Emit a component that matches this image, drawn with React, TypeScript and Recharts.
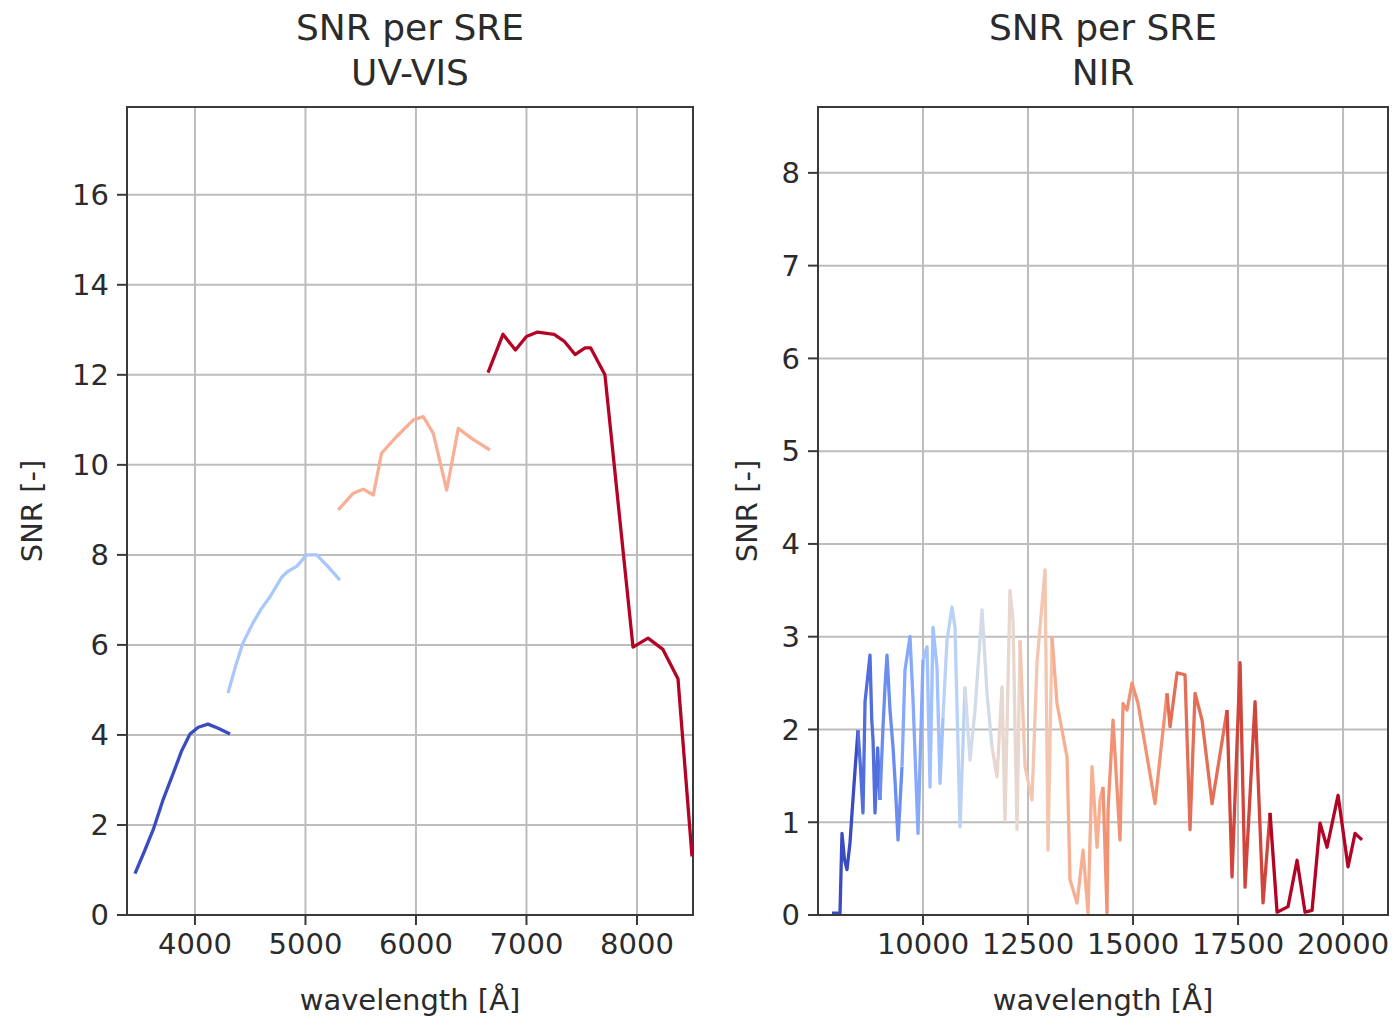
import React from 'react';
import { LineChart, Line, XAxis, YAxis, CartesianGrid, ReferenceArea } from 'recharts';

// ---------- UV-VIS data: [wavelength Å, SNR] ----------
const uvBlue = [[3457,0.92],[3540,1.4],[3623,1.9],[3710,2.55],[3804,3.15],[3880,3.65],[3955,4.02],[4030,4.17],[4118,4.24],[4210,4.15],[4317,4.02]];
const uvLightBlue = [[4299,4.93],[4370,5.55],[4434,6.04],[4525,6.49],[4600,6.8],[4679,7.07],[4787,7.51],[4833,7.62],[4923,7.75],[5011,8.0],[5101,8.0],[5200,7.75],[5312,7.44]];
const uvSalmon = [[5297,9.0],[5433,9.37],[5523,9.46],[5614,9.33],[5689,10.26],[5825,10.63],[5976,11.0],[6066,11.07],[6157,10.7],[6278,9.44],[6383,10.81],[6519,10.56],[6670,10.33]];
const uvRed = [[6652,12.05],[6787,12.9],[6900,12.55],[7000,12.85],[7100,12.95],[7250,12.9],[7340,12.75],[7440,12.45],[7530,12.6],[7580,12.6],[7710,12.0],[7964,5.95],[8100,6.15],[8235,5.9],[8371,5.25],[8498,1.3]];

// ---------- NIR data segments: [wavelength Å, SNR] ----------
const nir0 = [[7833,0.02],[8024,0.02],[8071,0.88],[8130,0.6],[8190,0.49],[8262,0.78],[8310,1.1],[8380,1.55],[8452,1.99]];
const nir1 = [[8452,1.99],[8510,1.6],[8571,1.1],[8620,2.3],[8667,2.5],[8738,2.8],[8780,2.1],[8810,1.89],[8857,1.1],[8920,1.8],[8976,1.24]];
const nir2 = [[8976,1.24],[9048,2.03],[9100,2.5],[9143,2.8],[9214,2.21],[9286,1.81],[9340,1.4],[9405,0.81],[9500,1.6]];
const nir3 = [[9500,1.6],[9571,2.64],[9690,3.0],[9762,2.32],[9881,0.88],[10000,2.75]];
const nir4 = [[10000,2.75],[10095,2.89],[10167,1.38],[10238,3.1],[10333,2.67],[10405,1.42],[10476,2.13]];
const nir5 = [[10476,2.13],[10571,2.96],[10690,3.32],[10762,3.1],[10881,0.95],[11000,2.46]];
const nir6 = [[11000,2.46],[11119,1.67],[11238,2.21],[11405,3.29],[11524,2.39],[11643,1.81]];
const nir7 = [[11643,1.81],[11762,1.49],[11881,2.46],[11952,1.02],[12071,3.5],[12143,3.18],[12238,0.92],[12310,2.96]];
const nir8 = [[12310,2.96],[12429,1.6],[12595,1.24],[12714,2.72],[12905,3.72],[12976,0.7],[13071,3.0]];
const nir9 = [[13071,3.0],[13190,2.28],[13429,1.7],[13500,0.38],[13667,0.13],[13810,0.7],[13929,0.02],[14024,1.6],[14143,0.73],[14214,1.24],[14286,1.38]];
const nir10 = [[14286,1.38],[14381,0.02],[14405,1.13],[14524,2.1],[14690,0.81],[14762,2.28],[14857,2.21],[14976,2.5],[15119,2.28],[15524,1.2],[15810,2.39]];
const nir11 = [[15810,2.39],[15881,2.03],[16048,2.61],[16238,2.59],[16357,0.92],[16476,2.39],[16643,2.1],[16881,1.2],[17024,1.6],[17238,2.21]];
const nir12 = [[17238,2.21],[17357,0.41],[17548,2.72],[17667,0.3],[17905,2.3],[18095,0.13],[18262,1.1]];
const nir13 = [[18262,1.1],[18429,0.03],[18690,0.09],[18905,0.59],[19095,0.03],[19262,0.05],[19452,0.99],[19619,0.73],[19881,1.29],[20119,0.52],[20286,0.88],[20452,0.81]];

// ---------- ticks ----------
const uvXTicks = [4000, 5000, 6000, 7000, 8000];
const uvYTicks = [0, 2, 4, 6, 8, 10, 12, 14, 16];
const nirXTicks = [10000, 12500, 15000, 17500, 20000];
const nirYTicks = [0, 1, 2, 3, 4, 5, 6, 7, 8];

const uvXDomain = [3385, 8507];
const uvYDomain = [0, 17.95];
const nirXDomain = [7500, 21070];
const nirYDomain = [0, 8.71];

const uvSeries = [
  { data: uvBlue, color: '#3b4cc0' },
  { data: uvLightBlue, color: '#aac7fd' },
  { data: uvSalmon, color: '#f7b096' },
  { data: uvRed, color: '#b40426' },
];

const nirColors = ['#3b4cc0','#526edc','#6b8df0','#86a9fc','#a1c1ff','#bbd2f7','#d3dbe8','#e7d7ce','#f4c6b0','#f7af92','#f29274','#e46f57','#d0463d','#b40426'];
const nirSegs = [nir0,nir1,nir2,nir3,nir4,nir5,nir6,nir7,nir8,nir9,nir10,nir11,nir12,nir13];
const nirSeries = nirSegs.map((d, i) => ({ data: d, color: nirColors[i] }));

const toPts = (arr: number[][]) => arr.map(([x, y]) => ({ x, y }));

const FONT = '"DejaVu Sans", sans-serif';
const TXT = '#2b2b2b';
const tickStyle = { fontSize: 29, fill: TXT, fontFamily: FONT };

interface PanelProps {
  left: number; width: number; plotLeft: number; plotRight: number;
  xDomain: number[]; yDomain: number[]; xTicks: number[]; yTicks: number[];
  series: { data: number[][]; color: string }[];
}

const PLOT_TOP = 107;
const PLOT_BOTTOM = 915;
const H = 1024;
const XAXIS_H = 60;

function Panel({ left, width, plotLeft, plotRight, xDomain, yDomain, xTicks, yTicks, series }: PanelProps) {
  return (
    <div style={{ position: 'absolute', left, top: 0 }}>
      <LineChart
        width={width}
        height={H}
        margin={{ top: PLOT_TOP, right: width - plotRight, bottom: H - PLOT_BOTTOM - XAXIS_H, left: 0 }}
      >
        <CartesianGrid stroke="#bdbdbd" strokeWidth={2} />
        <XAxis
          type="number" dataKey="x" domain={xDomain} ticks={xTicks} allowDataOverflow
          height={XAXIS_H} tickSize={10} tickMargin={8}
          stroke="#3a3a3a" strokeWidth={2} tick={tickStyle} interval={0}
        />
        <YAxis
          type="number" domain={yDomain} ticks={yTicks} allowDataOverflow
          width={plotLeft} tickSize={10} tickMargin={8}
          stroke="#3a3a3a" strokeWidth={2} tick={tickStyle} interval={0}
        />
        <ReferenceArea x1={xDomain[0]} x2={xDomain[1]} y1={yDomain[0]} y2={yDomain[1]}
          fill="none" stroke="#3a3a3a" strokeWidth={2} ifOverflow="visible" />
        {series.map((s, i) => (
          <Line key={i} data={toPts(s.data)} dataKey="y" type="linear" stroke={s.color}
            strokeWidth={3.3} strokeLinejoin="round" dot={false} activeDot={false} isAnimationActive={false} />
        ))}
      </LineChart>
    </div>
  );
}

function Title({ cx, lines }: { cx: number; lines: string[] }) {
  return (
    <div style={{ position: 'absolute', left: cx - 250, top: 5, width: 500, textAlign: 'center',
      fontFamily: FONT, fontSize: 36, lineHeight: '45px', color: TXT }}>
      {lines.map((l, i) => <div key={i}>{l}</div>)}
    </div>
  );
}

function XLabel({ cx, text }: { cx: number; text: string }) {
  return (
    <div style={{ position: 'absolute', left: cx - 250, top: 982, width: 500, textAlign: 'center',
      fontFamily: FONT, fontSize: 29, lineHeight: '36px', color: TXT }}>{text}</div>
  );
}

function YLabel({ cx, cy, text }: { cx: number; cy: number; text: string }) {
  return (
    <div style={{ position: 'absolute', left: cx, top: cy, transform: 'translate(-50%, -50%) rotate(-90deg)',
      whiteSpace: 'nowrap', fontFamily: FONT, fontSize: 29, lineHeight: '36px', color: TXT }}>{text}</div>
  );
}

export default function App() {
  return (
    <div style={{ position: 'absolute', left: 0, top: 0, width: 1398, height: 1024, background: '#fff', overflow: 'hidden' }}>
      <Panel left={0} width={700} plotLeft={127} plotRight={693}
        xDomain={uvXDomain} yDomain={uvYDomain} xTicks={uvXTicks} yTicks={uvYTicks} series={uvSeries} />
      <Panel left={700} width={698} plotLeft={118} plotRight={688}
        xDomain={nirXDomain} yDomain={nirYDomain} xTicks={nirXTicks} yTicks={nirYTicks} series={nirSeries} />
      <Title cx={410} lines={['SNR per SRE', 'UV-VIS']} />
      <Title cx={1103} lines={['SNR per SRE', 'NIR']} />
      <XLabel cx={410} text="wavelength [Å]" />
      <XLabel cx={1103} text="wavelength [Å]" />
      <YLabel cx={32} cy={511} text="SNR [-]" />
      <YLabel cx={747} cy={511} text="SNR [-]" />
    </div>
  );
}
